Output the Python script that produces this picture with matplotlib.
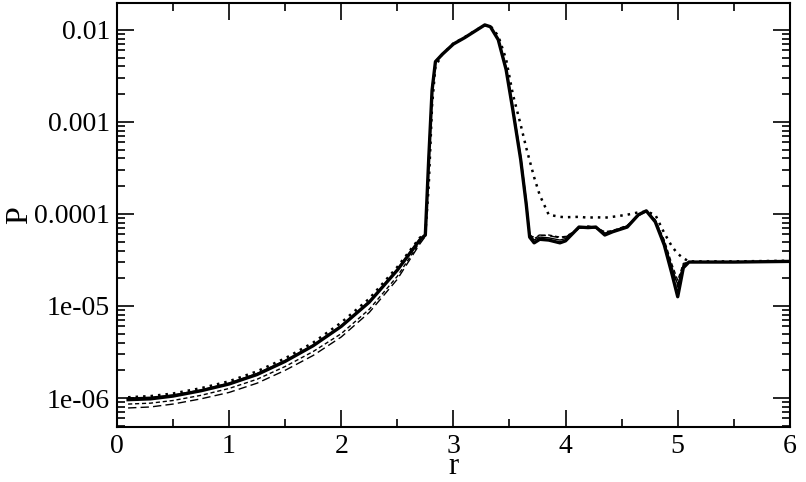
import matplotlib
matplotlib.use('Agg')
import matplotlib.pyplot as plt
from matplotlib.ticker import FixedLocator, LogLocator, MultipleLocator, NullFormatter

# radius grid shared by all curves
r = [0.1, 0.3, 0.5, 0.75, 1.0, 1.25, 1.5, 1.75, 2.0, 2.25,
     2.5, 2.7, 2.75, 2.78, 2.81, 2.84, 2.9, 3.0, 3.1, 3.2,
     3.28, 3.33, 3.4, 3.47, 3.53, 3.6, 3.65, 3.68, 3.72, 3.77,
     3.85, 3.95, 4.0, 4.12, 4.2, 4.27, 4.35, 4.42, 4.55, 4.65,
     4.72, 4.8, 4.88, 4.95, 5.0, 5.05, 5.1, 5.5, 6.0]

p_thick = [9.6e-7, 9.8e-7, 1.05e-6, 1.2e-6, 1.42e-6, 1.8e-6, 2.5e-6, 3.7e-6, 6.0e-6, 1.1e-5,
           2.45e-5, 5.2e-5, 5.9e-5, 3.9e-4, 2.2e-3, 4.5e-3, 5.4e-3, 7.0e-3, 8.2e-3, 9.8e-3,
           1.13e-2, 1.08e-2, 7.8e-3, 3.7e-3, 1.35e-3, 3.9e-4, 1.26e-4, 5.6e-5, 4.85e-5, 5.3e-5,
           5.2e-5, 4.85e-5, 5.1e-5, 7.2e-5, 7.1e-5, 7.2e-5, 5.9e-5, 6.4e-5, 7.2e-5, 9.8e-5,
           1.08e-4, 8.2e-5, 4.6e-5, 2.2e-5, 1.26e-5, 2.6e-5, 3.0e-5, 3.0e-5, 3.05e-5]

p_thin = [1.0e-6, 1.02e-6, 1.08e-6, 1.22e-6, 1.45e-6, 1.85e-6, 2.55e-6, 3.75e-6, 6.1e-6, 1.12e-5,
          2.5e-5, 5.3e-5, 6.0e-5, 4.5e-4, 2.4e-3, 4.6e-3, 5.4e-3, 7.0e-3, 8.2e-3, 9.8e-3,
          1.12e-2, 1.08e-2, 7.9e-3, 3.9e-3, 1.45e-3, 4.3e-4, 1.4e-4, 6.0e-5, 5.2e-5, 5.6e-5,
          5.5e-5, 5.2e-5, 5.4e-5, 7.0e-5, 7.2e-5, 7.0e-5, 6.2e-5, 6.5e-5, 7.4e-5, 9.6e-5,
          1.07e-4, 8.5e-5, 5.0e-5, 2.6e-5, 1.7e-5, 2.8e-5, 3.0e-5, 3.0e-5, 3.05e-5]

p_dash = [8.6e-7, 8.8e-7, 9.4e-7, 1.07e-6, 1.27e-6, 1.6e-6, 2.2e-6, 3.2e-6, 5.0e-6, 9.2e-6,
          2.1e-5, 4.9e-5, 5.8e-5, 4.2e-4, 2.3e-3, 4.5e-3, 5.4e-3, 7.0e-3, 8.2e-3, 9.8e-3,
          1.12e-2, 1.08e-2, 7.9e-3, 3.8e-3, 1.4e-3, 4.1e-4, 1.3e-4, 5.9e-5, 5.4e-5, 5.8e-5,
          5.9e-5, 5.6e-5, 5.7e-5, 6.9e-5, 7.4e-5, 7.1e-5, 6.4e-5, 6.6e-5, 7.5e-5, 9.6e-5,
          1.07e-4, 8.6e-5, 5.2e-5, 2.8e-5, 1.9e-5, 2.9e-5, 3.0e-5, 3.0e-5, 3.05e-5]

p_longdash = [7.8e-7, 8.0e-7, 8.6e-7, 9.8e-7, 1.15e-6, 1.45e-6, 2.0e-6, 2.9e-6, 4.6e-6, 8.5e-6,
              1.95e-5, 4.7e-5, 5.7e-5, 4.0e-4, 2.2e-3, 4.5e-3, 5.4e-3, 7.0e-3, 8.2e-3, 9.8e-3,
              1.12e-2, 1.08e-2, 7.8e-3, 3.8e-3, 1.4e-3, 4.1e-4, 1.3e-4, 5.8e-5, 5.6e-5, 5.9e-5,
              5.8e-5, 5.5e-5, 5.6e-5, 7.0e-5, 7.3e-5, 7.2e-5, 6.3e-5, 6.5e-5, 7.4e-5, 9.7e-5,
              1.07e-4, 8.4e-5, 4.9e-5, 2.5e-5, 1.6e-5, 2.8e-5, 3.0e-5, 3.0e-5, 3.05e-5]

p_dot = [1.02e-6, 1.05e-6, 1.12e-6, 1.28e-6, 1.52e-6, 1.95e-6, 2.7e-6, 4.0e-6, 6.6e-6, 1.2e-5,
         2.65e-5, 5.5e-5, 6.1e-5, 2.0e-4, 1.5e-3, 4.0e-3, 5.4e-3, 7.1e-3, 8.3e-3, 9.9e-3,
         1.12e-2, 1.1e-2, 8.6e-3, 4.8e-3, 2.0e-3, 9.3e-4, 5.2e-4, 3.8e-4, 2.5e-4, 1.6e-4,
         9.8e-5, 9.3e-5, 9.2e-5, 9.3e-5, 9.1e-5, 9.2e-5, 9.1e-5, 9.3e-5, 9.8e-5, 1.04e-4,
         1.06e-4, 9.8e-5, 6.2e-5, 4.4e-5, 3.7e-5, 3.3e-5, 3.05e-5, 3.05e-5, 3.1e-5]

yticks = [1e-6, 1e-5, 1e-4, 1e-3, 1e-2]
ytick_labels = ['1e-06', '1e-05', '0.0001', '0.001', '0.01']

plt.rcParams['font.family'] = ['Liberation Serif', 'DejaVu Serif']

fig = plt.figure(figsize=(8.06, 4.82), dpi=100)
ax = fig.add_axes([0.145, 0.114, 0.835, 0.880])

ax.plot(r, p_longdash, color='black', lw=1.0, ls=(0, (6, 3)))
ax.plot(r, p_dash, color='black', lw=1.0, ls=(0, (3, 2)))
ax.plot(r, p_thin, color='black', lw=1.0)
ax.plot(r, p_dot, color='black', lw=1.8, ls=(0, (1, 2)))
ax.plot(r, p_thick, color='black', lw=2.4)

ax.set_yscale('log')
ax.set_xlim(0, 6)
ax.set_ylim(4.84e-7, 1.96e-2)

ax.xaxis.set_major_locator(MultipleLocator(1))
ax.xaxis.set_minor_locator(MultipleLocator(0.5))
ax.yaxis.set_major_locator(FixedLocator(yticks))
ax.set_yticklabels(ytick_labels)
ax.yaxis.set_minor_locator(LogLocator(base=10, subs=range(2, 10)))
ax.yaxis.set_minor_formatter(NullFormatter())

ax.tick_params(which='both', direction='in', top=True, right=True, width=1.2, labelsize=20)
ax.tick_params(axis='x', which='major', length=12, pad=5)
ax.tick_params(axis='y', which='major', length=12, pad=5)
ax.tick_params(which='minor', length=6)
for s in ax.spines.values():
    s.set_linewidth(1.5)

ax.set_xlabel('r', fontsize=22, labelpad=-5)
ax.set_ylabel('P', fontsize=23, labelpad=0)

fig.savefig('out.png', dpi=100)
